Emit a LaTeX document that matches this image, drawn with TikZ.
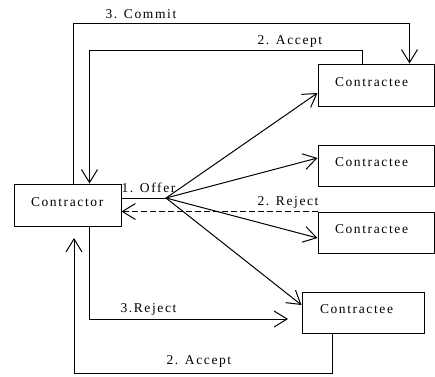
\documentclass[tikz,border=0pt]{standalone}
\usepackage{fontspec}
\setmainfont{Liberation Serif}[LetterSpace=12]
\usetikzlibrary{arrows.meta,calc}
\begin{document}
\begin{tikzpicture}[x=1pt,y=-1pt,line width=1pt,
  arr/.style={-{Straight Barb[length=13pt,width=16pt,line width=1pt]}},
  box/.style={draw,minimum height=42pt,inner ysep=0pt,align=left,
    text height=9pt,text depth=7pt,font=\fontsize{13.5}{15}\selectfont},
  lbl/.style={anchor=base west,inner sep=0pt,font=\fontsize{13.5}{15}\selectfont}]
\useasboundingbox (0,0) rectangle (435,376);
% boxes
\node[box,text width=73pt,inner xsep=17pt] (contractor) at (67.5,205) {Contractor};
\node[box,text width=82pt,inner xsep=17pt] (ce1) at (376,85) {Contractee};
\node[box,text width=82pt,inner xsep=17pt,minimum height=41pt] (ce2) at (376,165.5) {Contractee};
\node[box,text width=82pt,inner xsep=17pt,minimum height=41pt] (ce3) at (376,232.5) {Contractee};
\node[box,text width=86pt,inner xsep=18pt,minimum height=41pt] (ce4) at (363,312.5) {Contractee};
% hub and free ends
\coordinate (hub) at (166,198);
\coordinate (rj) at (288,319);
\coordinate (acc2end) at (74,238);
% offer
\draw (hub -| contractor.east) -- (hub);
\draw[arr] (hub) -- ($(ce1.west)+(0,8)$);
\draw[arr] (hub) -- ($(ce2.west)+(0,-7.5)$);
\draw[arr] (hub) -- ($(ce3.west)+(0,5.5)$);
\draw[arr] (hub) -- ($(ce4.west)+(0,-7.5)$);
% reject (dashed)
\draw[arr,dash pattern=on 6pt off 3pt] (ce3.north west) -- (ce3.north west -| contractor.east);
% commit
\draw[arr] ([xshift=60pt]contractor.north west) -- ++(0,-160) -| ([xshift=92pt]ce1.north west);
% accept top
\draw[arr] ([xshift=45pt]ce1.north west) -- ++(0,-13) -| ([xshift=76pt]contractor.north west);
% 3.Reject bottom
\draw[arr] ([xshift=76pt]contractor.south west) |- (rj);
% accept bottom
\draw[arr] ([xshift=31pt]ce4.south west) -- ++(0,40) -| (acc2end);
% labels
\node[lbl] (lcommit) at (105,18) {3. Commit};
\node[lbl] (lacc1) at (257,44) {2. Accept};
\node[lbl] (loffer) at (121,192) {1. Offer};
\node[lbl] (lrej2) at (257,205) {2. Reject};
\node[lbl] (lrej3) at (120,312) {3.Reject};
\node[lbl] (lacc2) at (166,364) {2. Accept};
\end{tikzpicture}
\end{document}
